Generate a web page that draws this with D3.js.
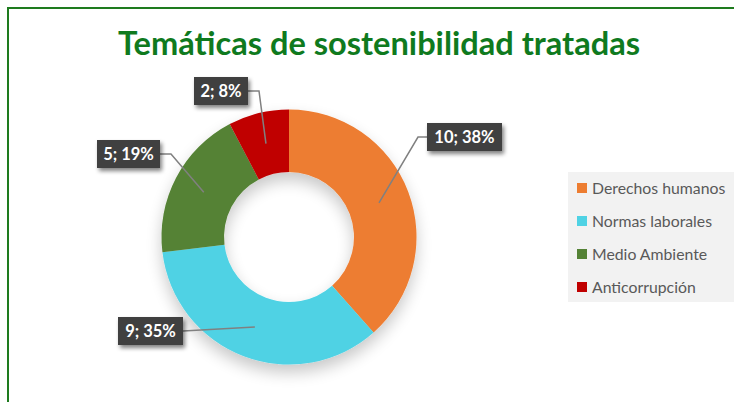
<!DOCTYPE html>
<html><head><meta charset="utf-8">
<script src="https://cdn.jsdelivr.net/npm/d3@7/dist/d3.min.js"></script>
<style>html,body{margin:0;padding:0;background:#fff;}svg{display:block;}</style>
</head><body>
<script>
const categories = ["Derechos humanos", "Normas laborales", "Medio Ambiente", "Anticorrupción"];
const values = [10, 9, 5, 2];
const percents = ["38%", "35%", "19%", "8%"];
const colors = ["#ED7D31", "#4FD2E4", "#548235", "#C00000"];
const titleText = "Temáticas de sostenibilidad tratadas";
// label box layout (x, y, w, h) and elbow point for leaders
const labelLayout = [
  {x: 427, y: 123, w: 75, h: 28, side: "left", elbow: 418},
  {x: 118, y: 317, w: 65, h: 28, side: "right", elbow: null},
  {x: 97, y: 140, w: 63, h: 28, side: "right", elbow: 171},
  {x: 194, y: 77, w: 54, h: 28, side: "right", elbow: 259}
];

const W = 734, H = 402;
const svg = d3.select("body").append("svg").attr("width", W).attr("height", H);
const defs = svg.append("defs");
const sh = defs.append("filter").attr("id", "shadow").attr("x", "-30%").attr("y", "-30%").attr("width", "160%").attr("height", "170%");
sh.append("feGaussianBlur").attr("in", "SourceAlpha").attr("stdDeviation", 8).attr("result", "b");
sh.append("feOffset").attr("in", "b").attr("dy", 8).attr("result", "o");
sh.append("feComponentTransfer").attr("in", "o").attr("result", "c").append("feFuncA").attr("type", "linear").attr("slope", 0.22);
const m1 = sh.append("feMerge"); m1.append("feMergeNode").attr("in", "c"); m1.append("feMergeNode").attr("in", "SourceGraphic");

const sh2 = defs.append("filter").attr("id", "bshadow").attr("x", "-30%").attr("y", "-30%").attr("width", "160%").attr("height", "170%");
sh2.append("feGaussianBlur").attr("in", "SourceAlpha").attr("stdDeviation", 2).attr("result", "b");
sh2.append("feOffset").attr("in", "b").attr("dx", 2).attr("dy", 3).attr("result", "o");
sh2.append("feComponentTransfer").attr("in", "o").attr("result", "c").append("feFuncA").attr("type", "linear").attr("slope", 0.5);
const m2 = sh2.append("feMerge"); m2.append("feMergeNode").attr("in", "c"); m2.append("feMergeNode").attr("in", "SourceGraphic");

// border
svg.append("rect").attr("x", 8).attr("y", 8).attr("width", W).attr("height", H + 10)
  .attr("fill", "none").attr("stroke", "#1E7B1E").attr("stroke-width", 2);

// title
svg.append("text").attr("x", 379).attr("y", 55).attr("text-anchor", "middle")
  .attr("font-family", "Lato, 'Open Sans', sans-serif").attr("font-weight", "bold").attr("font-size", 33)
  .attr("fill", "#0F7A1E").attr("textLength", 522).attr("lengthAdjust", "spacingAndGlyphs")
  .text(titleText);

const cx = 289, cy = 237, rOuter = 127.5, rInner = 65;
const pie = d3.pie().sort(null).value(d => d)(values);
const arc = d3.arc().innerRadius(rInner).outerRadius(rOuter);
const g = svg.append("g").attr("transform", `translate(${cx},${cy})`).attr("filter", "url(#shadow)");
g.selectAll("path").data(pie).enter().append("path").attr("d", arc).attr("fill", (d, i) => colors[i]);

// leaders
const lg = svg.append("g");
pie.forEach((d, i) => {
  const c = arc.centroid(d);
  const ex = cx + c[0], ey = cy + c[1];
  const L = labelLayout[i];
  const sx = L.side === "left" ? L.x : L.x + L.w;
  const sy = L.y + L.h / 2;
  const pts = [[sx, sy]];
  if (L.elbow !== null) pts.push([L.elbow, sy]);
  pts.push([ex, ey]);
  lg.append("path").attr("d", d3.line()(pts)).attr("fill", "none").attr("stroke", "#808080").attr("stroke-width", 1.5);
});

// labels
const lb = svg.append("g");
pie.forEach((d, i) => {
  const L = labelLayout[i];
  const gg = lb.append("g");
  gg.append("rect").attr("x", L.x).attr("y", L.y).attr("width", L.w).attr("height", L.h)
    .attr("fill", "#404040").attr("filter", "url(#bshadow)");
  gg.append("text").attr("x", L.x + L.w / 2).attr("y", L.y + L.h / 2 + 6).attr("text-anchor", "middle")
    .attr("font-family", "Lato, 'Open Sans', sans-serif").attr("font-weight", "bold").attr("font-size", 16.5)
    .attr("fill", "#ffffff").text(`${values[i]}; ${percents[i]}`);
});

// legend
const leg = svg.append("g");
leg.append("rect").attr("x", 568).attr("y", 172).attr("width", W - 568).attr("height", 130).attr("fill", "#F2F2F2");
categories.forEach((c, i) => {
  const y = 188 + i * 33;
  leg.append("rect").attr("x", 577).attr("y", y - 5).attr("width", 10).attr("height", 10).attr("fill", colors[i]);
  leg.append("text").attr("x", 592).attr("y", y + 5.5).attr("font-family", "Lato, 'Open Sans', sans-serif")
    .attr("font-size", 15.8).attr("fill", "#595959").text(c);
});
</script>
</body></html>
